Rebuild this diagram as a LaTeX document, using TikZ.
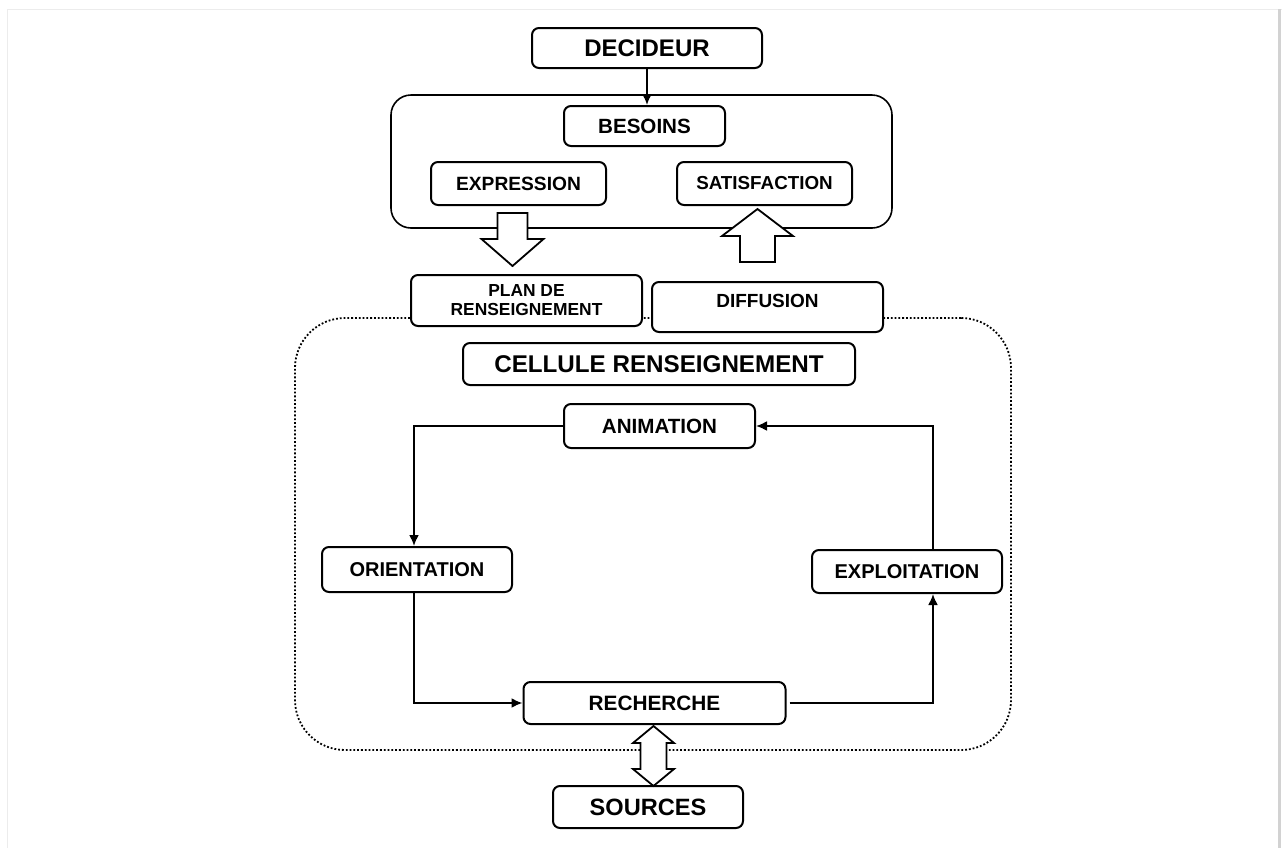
\documentclass[tikz,border=0pt]{standalone}
\usepackage{fontspec}
\setmainfont{Liberation Sans}
\usepackage{tikz}
\usetikzlibrary{shapes,arrows.meta,positioning,calc}

\begin{document}
\begin{tikzpicture}[
    x=0.5pt, y=-0.5pt,
    box/.style={rectangle, rounded corners=3.5pt, draw=black, line width=1pt, fill=white, inner sep=0pt, align=center, text centered},
    group/.style={rectangle, rounded corners=10pt, draw=black, line width=0.8pt},
    cell/.style={rectangle, rounded corners=25pt, draw=black, line width=0.9pt, densely dotted},
    arrow/.style={line width=1pt, ->, >={Latex[length=5.5pt,width=5pt]}},
    hollow/.style={draw=black, line width=0.9pt, fill=white, line join=miter}
]
\useasboundingbox (0,0) rectangle (1282,848);

% faint frame of the page
\draw[gray!15, line width=0.5pt] (7,848) -- (7,9) -- (1282,9);
\fill[gray!35] (1278,9) rectangle (1281,848);

% containers
\node (topbox) [group, minimum width=250.5pt, minimum height=66.5pt] at (641.5,161.5) {};
\node (cellbox) [cell, minimum width=358pt, minimum height=216pt] at (653,534) {};

% upper part
\node (decideur) [box, minimum width=115pt, minimum height=20pt, font=\bfseries\fontsize{12pt}{14pt}\selectfont] at (647,48) {DECIDEUR};
\node (besoins) [box, minimum width=80.5pt, minimum height=20pt, font=\bfseries\fontsize{10.3pt}{12pt}\selectfont] at (644.5,126) {BESOINS};
\node (expression) [box, minimum width=87.5pt, minimum height=21.5pt, font=\bfseries\fontsize{9.6pt}{11pt}\selectfont] at (518.5,183.5) {EXPRESSION};
\node (satisfaction) [box, minimum width=87.5pt, minimum height=21.5pt, font=\bfseries\fontsize{9.4pt}{11pt}\selectfont] at (764.5,183.5) {SATISFACTION};

\node (plan) [box, minimum width=115.5pt, minimum height=25.5pt, font=\bfseries\fontsize{8.7pt}{9.5pt}\selectfont] at (526.5,300.5) {PLAN DE\\RENSEIGNEMENT};
\node (diffusion) [box, minimum width=115.5pt, minimum height=25pt, text height=7pt, text depth=7pt, font=\bfseries\fontsize{9.5pt}{11pt}\selectfont] at (767.5,307) {DIFFUSION};

% cellule
\node (cellule) [box, minimum width=196pt, minimum height=21pt, font=\bfseries\fontsize{12.1pt}{14pt}\selectfont] at (659,364) {CELLULE RENSEIGNEMENT};
\node (animation) [box, minimum width=95.5pt, minimum height=22pt, font=\bfseries\fontsize{10.3pt}{12pt}\selectfont] at (659.5,426) {ANIMATION};
\node (orientation) [box, minimum width=95pt, minimum height=22.5pt, font=\bfseries\fontsize{10pt}{12pt}\selectfont] at (417,569.5) {ORIENTATION};
\node (exploitation) [box, minimum width=95pt, minimum height=21.5pt, font=\bfseries\fontsize{10pt}{12pt}\selectfont] at (907,571.5) {EXPLOITATION};
\node (recherche) [box, minimum width=131pt, minimum height=21pt, font=\bfseries\fontsize{10.4pt}{12pt}\selectfont] at (654.5,703) {RECHERCHE};
\node (sources) [box, minimum width=95pt, minimum height=21pt, font=\bfseries\fontsize{11.8pt}{14pt}\selectfont] at (648,807) {SOURCES};

% Arrows
\draw [arrow] (decideur.south) -- (decideur.south |- besoins.north);
\draw [arrow] (animation.west) -| ([xshift=-1.5pt]orientation.north);
\draw [arrow] ([xshift=-1.5pt]orientation.south) |- (recherche.west);
\draw [arrow] ([xshift=1.5pt]recherche.east) -| ([xshift=13pt]exploitation.south);
\draw [arrow] ([xshift=13pt]exploitation.north) |- (animation.east);

% block arrows
\draw [hollow] ($(expression.south)+(-21,7)$) -- ++(30,0) -- ++(0,26) -- ++(16,0) -- ++(-31,27) -- ++(-31,-27) -- ++(16,0) -- cycle;
\draw [hollow] ($(diffusion.north)+(-27.5,-19)$) -- ++(35,0) -- ++(0,-26) -- ++(18,0) -- ++(-35.5,-27) -- ++(-35.5,27) -- ++(18,0) -- cycle;
\draw [hollow] ($(recherche.south)+(-1,1)$) -- ++(20.5,17) -- ++(-7.5,0) -- ++(0,26) -- ++(7.5,0) -- ++(-20.5,17) -- ++(-20.5,-17) -- ++(7.5,0) -- ++(0,-26) -- ++(-7.5,0) -- cycle;

\end{tikzpicture}
\end{document}
